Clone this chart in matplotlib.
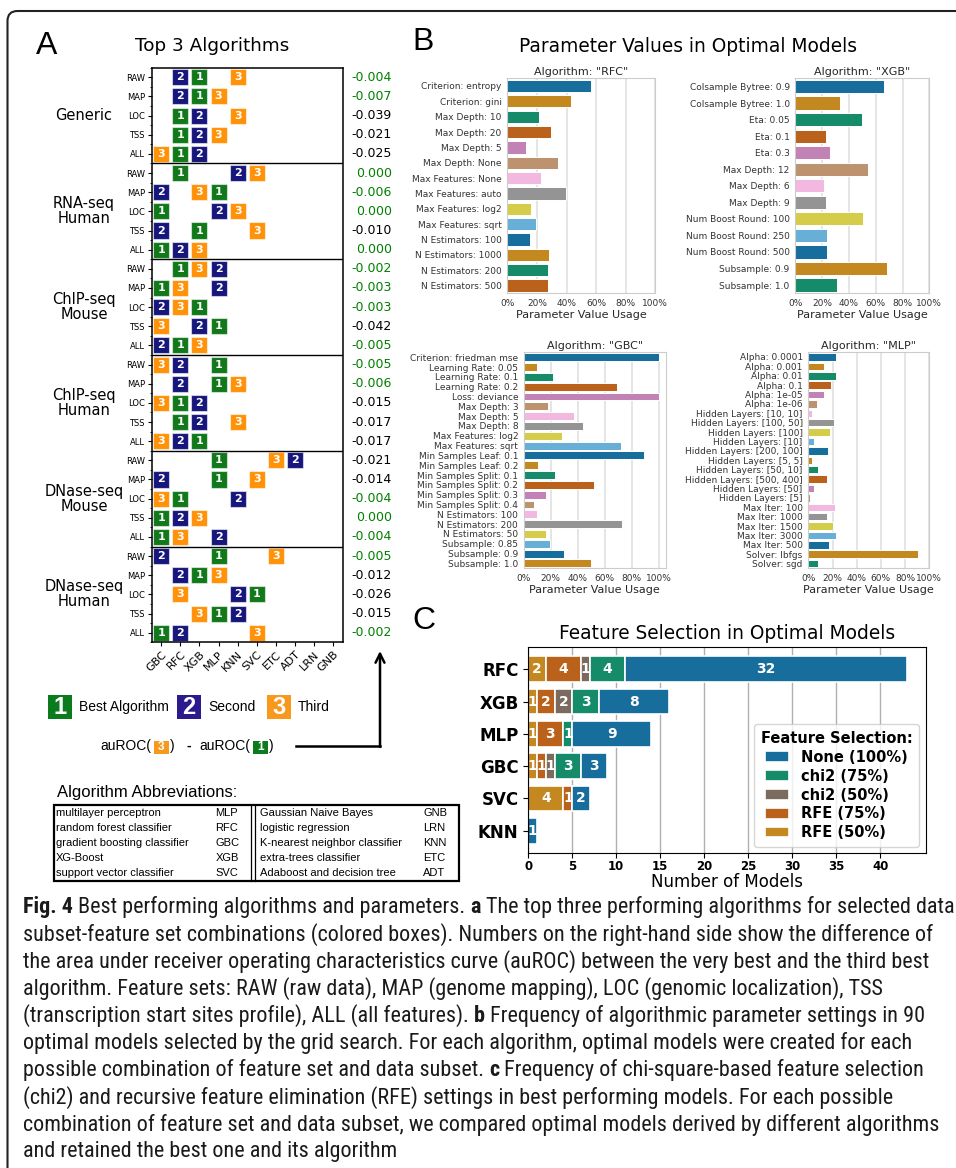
import numpy as np
import matplotlib
matplotlib.use("Agg")
import matplotlib.pyplot as plt
from matplotlib.patches import Rectangle, FancyBboxPatch, FancyArrowPatch
from matplotlib.lines import Line2D
from matplotlib.ticker import PercentFormatter, FixedLocator
from matplotlib import font_manager
import seaborn as sns

W, H = 956, 1168

# ---------------- panel A data ----------------
algos = ["GBC", "RFC", "XGB", "MLP", "KNN", "SVC", "ETC", "ADT", "LRN", "GNB"]
feature_sets = ["RAW", "MAP", "LOC", "TSS", "ALL"]
subsets = ["Generic", "RNA-seq\nHuman", "ChIP-seq\nMouse", "ChIP-seq\nHuman",
           "DNase-seq\nMouse", "DNase-seq\nHuman"]

# (best, second, third) per feature set
top3_generic = [("XGB", "RFC", "KNN"), ("XGB", "RFC", "MLP"), ("RFC", "XGB", "KNN"),
                ("RFC", "XGB", "MLP"), ("RFC", "XGB", "GBC")]
top3_rna_human = [("RFC", "KNN", "SVC"), ("MLP", "GBC", "XGB"), ("GBC", "MLP", "KNN"),
                  ("XGB", "GBC", "SVC"), ("GBC", "RFC", "XGB")]
top3_chip_mouse = [("RFC", "MLP", "XGB"), ("GBC", "MLP", "RFC"), ("XGB", "GBC", "RFC"),
                   ("MLP", "XGB", "GBC"), ("RFC", "GBC", "XGB")]
top3_chip_human = [("MLP", "RFC", "GBC"), ("MLP", "RFC", "KNN"), ("RFC", "XGB", "GBC"),
                   ("RFC", "XGB", "KNN"), ("XGB", "RFC", "GBC")]
top3_dnase_mouse = [("MLP", "ADT", "ETC"), ("MLP", "GBC", "SVC"), ("RFC", "KNN", "GBC"),
                    ("GBC", "RFC", "XGB"), ("GBC", "MLP", "RFC")]
top3_dnase_human = [("MLP", "GBC", "ETC"), ("XGB", "RFC", "MLP"), ("SVC", "KNN", "RFC"),
                    ("MLP", "KNN", "XGB"), ("GBC", "RFC", "SVC")]

# auROC(third) - auROC(best)
diff_generic = [-0.004, -0.007, -0.039, -0.021, -0.025]
diff_rna_human = [0.000, -0.006, 0.000, -0.010, 0.000]
diff_chip_mouse = [-0.002, -0.003, -0.003, -0.042, -0.005]
diff_chip_human = [-0.005, -0.006, -0.015, -0.017, -0.017]
diff_dnase_mouse = [-0.021, -0.014, -0.004, 0.000, -0.004]
diff_dnase_human = [-0.005, -0.012, -0.026, -0.015, -0.002]

abbr_left_names = ["multilayer perceptron", "random forest classifier",
                   "gradient boosting classifier", "XG-Boost", "support vector classifier"]
abbr_left_codes = ["MLP", "RFC", "GBC", "XGB", "SVC"]
abbr_right_names = ["Gaussian Naive Bayes", "logistic regression",
                    "K-nearest neighbor classifier", "extra-trees classifier",
                    "Adaboost and decision tree"]
abbr_right_codes = ["GNB", "LRN", "KNN", "ETC", "ADT"]

# ---------------- panel B data (percent of optimal models) ----------------
rfc_params = ["Criterion: entropy", "Criterion: gini", "Max Depth: 10", "Max Depth: 20",
              "Max Depth: 5", "Max Depth: None", "Max Features: None", "Max Features: auto",
              "Max Features: log2", "Max Features: sqrt", "N Estimators: 100",
              "N Estimators: 1000", "N Estimators: 200", "N Estimators: 500"]
rfc_usage = [56.3, 43.3, 21.6, 29.5, 12.8, 34.0, 22.7, 39.6, 16.2, 19.4, 15.3, 28.4, 27.5, 27.5]

xgb_params = ["Colsample Bytree: 0.9", "Colsample Bytree: 1.0", "Eta: 0.05", "Eta: 0.1",
              "Eta: 0.3", "Max Depth: 12", "Max Depth: 6", "Max Depth: 9",
              "Num Boost Round: 100", "Num Boost Round: 250", "Num Boost Round: 500",
              "Subsample: 0.9", "Subsample: 1.0"]
xgb_usage = [66.5, 33.0, 49.8, 23.0, 26.2, 54.2, 21.6, 23.0, 50.5, 24.0, 24.0, 68.8, 30.8]

gbc_params = ["Criterion: friedman mse", "Learning Rate: 0.05", "Learning Rate: 0.1",
              "Learning Rate: 0.2", "Loss: deviance", "Max Depth: 3", "Max Depth: 5",
              "Max Depth: 8", "Max Features: log2", "Max Features: sqrt",
              "Min Samples Leaf: 0.1", "Min Samples Leaf: 0.2", "Min Samples Split: 0.1",
              "Min Samples Split: 0.2", "Min Samples Split: 0.3", "Min Samples Split: 0.4",
              "N Estimators: 100", "N Estimators: 200", "N Estimators: 50",
              "Subsample: 0.85", "Subsample: 0.9", "Subsample: 1.0"]
gbc_usage = [100, 9.9, 21.3, 68.8, 100, 17.6, 37.4, 44.1, 28.0, 72.0, 88.6, 10.9,
             23.5, 52.2, 16.6, 7.9, 9.9, 73.0, 16.6, 19.6, 30.0, 50.0]

mlp_params = ["Alpha: 0.0001", "Alpha: 0.001", "Alpha: 0.01", "Alpha: 0.1", "Alpha: 1e-05",
              "Alpha: 1e-06", "Hidden Layers: [10, 10]", "Hidden Layers: [100, 50]",
              "Hidden Layers: [100]", "Hidden Layers: [10]", "Hidden Layers: [200, 100]",
              "Hidden Layers: [5, 5]", "Hidden Layers: [50, 10]", "Hidden Layers: [500, 400]",
              "Hidden Layers: [50]", "Hidden Layers: [5]", "Max Iter: 100", "Max Iter: 1000",
              "Max Iter: 1500", "Max Iter: 3000", "Max Iter: 500", "Solver: lbfgs",
              "Solver: sgd"]
mlp_usage = [22.9, 12.9, 22.9, 18.5, 12.9, 7.2, 3.0, 20.9, 17.6, 5.0, 16.3, 3.0, 8.3,
             15.2, 5.0, 1.7, 21.8, 15.2, 20.7, 22.9, 17.4, 90.9, 8.3]

# ---------------- panel C data ----------------
fs_algos = ["RFC", "XGB", "MLP", "GBC", "SVC", "KNN"]
fs_labels = ["RFE (50%)", "RFE (75%)", "chi2 (50%)", "chi2 (75%)", "None (100%)"]
rfe_50 = [2, 1, 1, 1, 4, 0]
rfe_75 = [4, 2, 3, 1, 1, 0]
chi2_50 = [1, 2, 0, 1, 0, 0]
chi2_75 = [4, 3, 1, 3, 0, 0]
none_100 = [32, 8, 9, 3, 2, 1]


def box(l, t, r, b):
    return [l / W, 1 - b / H, (r - l) / W, (b - t) / H]


def fx(x):
    return x / W


def fy(y):
    return 1 - y / H


fig = plt.figure(figsize=(W / 100, H / 100), dpi=100)
renderer = fig.canvas.get_renderer()
ARIAL = "Liberation Sans"

# outer frame with rounded corner
fig.add_artist(FancyBboxPatch((0.075, -1), 20, 12.57, boxstyle="round,pad=0,rounding_size=0.1",
                              transform=fig.dpi_scale_trans, fill=False, ec="#222222", lw=1.5))

for letter, x, y in [("A", 47, 46), ("B", 423, 42), ("C", 424, 621)]:
    fig.text(fx(x), fy(y), letter, fontsize=23, family=ARIAL, ha="center", va="center")

# ================= panel A =================
green, navy, orange = "#11791a", "#16167c", "#ff9208"
rank_colors = [green, navy, orange]

top3_all = [top3_generic, top3_rna_human, top3_chip_mouse, top3_chip_human,
            top3_dnase_mouse, top3_dnase_human]
diff_all = [diff_generic, diff_rna_human, diff_chip_mouse, diff_chip_human,
            diff_dnase_mouse, diff_dnase_human]
n_rows = len(subsets) * len(feature_sets)

fig.text(fx(212), fy(46), "Top 3 Algorithms", fontsize=13.2, ha="center", va="center")
axa = fig.add_axes(box(151.7, 67.7, 342.7, 642.3))
axa.set_xlim(-0.5, len(algos) - 0.5)
axa.set_ylim(n_rows - 0.5, -0.5)
ytr = axa.get_yaxis_transform()
for g, (tops, diffs) in enumerate(zip(top3_all, diff_all)):
    for f, (trio, d) in enumerate(zip(tops, diffs)):
        r = g * len(feature_sets) + f
        for rank, name in enumerate(trio):
            c = algos.index(name)
            axa.add_patch(Rectangle((c - 0.42, r - 0.42), 0.84, 0.84, fc=rank_colors[rank],
                                    ec=(1, 1, 1, 0.55), lw=0.8))
            axa.text(c, r, str(rank + 1), color="white", fontweight="bold", fontsize=8,
                     ha="center", va="center")
        axa.text(1.258, r, f"{d:.3f}", transform=ytr, ha="right", va="center", fontsize=9,
                 color="green" if d > -0.0095 else "black")
    axa.text(-0.354, g * len(feature_sets) + 2, subsets[g], transform=ytr, ha="center",
             va="center", fontsize=10.5, linespacing=1.0)
    if g:
        axa.axhline(g * len(feature_sets) - 0.5, color="black", lw=1)
axa.set_yticks(range(n_rows), feature_sets * len(subsets), fontsize=6)
axa.yaxis.set_minor_locator(FixedLocator(np.arange(-0.5, n_rows, 0.5)))
axa.set_xticks(range(len(algos)), algos, rotation=45, ha="right", rotation_mode="anchor",
               fontsize=8)
axa.tick_params(axis="y", length=3, pad=2)
axa.tick_params(axis="y", which="minor", length=1.5)
axa.tick_params(axis="x", length=3, pad=2)
for s in axa.spines.values():
    s.set_linewidth(1.1)

# rank legend
for x0, digit, label, col in [(48, "1", "Best Algorithm", "#0c7b1c"),
                              (177, "2", "Second", "#2a1a8e"),
                              (267, "3", "Third", "#f8981d")]:
    fig.add_artist(Rectangle((fx(x0), fy(719)), 24 / W, 24 / H, transform=fig.transFigure,
                             fc=col, ec="none"))
    fig.text(fx(x0 + 12), fy(707), digit, color="white", fontsize=17, fontweight="bold",
             family=ARIAL, ha="center", va="center")
    fig.text(fx(x0 + 31), fy(707), label, fontsize=10, family=ARIAL, va="center")

# auROC(3) - auROC(1) formula
fy_f = 746
fig.text(fx(100.5), fy(fy_f), "auROC(", fontsize=10, family=ARIAL, va="center")
fig.text(fx(170), fy(fy_f), ")", fontsize=10, family=ARIAL, va="center")
fig.text(fx(189), fy(fy_f), "-", fontsize=10, family=ARIAL, va="center", ha="center",
         fontweight="bold")
fig.text(fx(199), fy(fy_f), "auROC(", fontsize=10, family=ARIAL, va="center")
fig.text(fx(269), fy(fy_f), ")", fontsize=10, family=ARIAL, va="center")
for x0, digit, col in [(154, "3", "#f8981d"), (253, "1", "#0c7b1c")]:
    fig.add_artist(Rectangle((fx(x0), fy(753.5)), 15 / W, 13 / H, transform=fig.transFigure,
                             fc=col, ec="none"))
    fig.text(fx(x0 + 7.5), fy(747), digit, color="white", fontsize=8.5, fontweight="bold",
             family=ARIAL, ha="center", va="center")
fig.add_artist(Line2D([fx(296), fx(380)], [fy(fy_f), fy(fy_f)], transform=fig.transFigure,
                      color="black", lw=1.8))
fig.add_artist(FancyArrowPatch((fx(380), fy(fy_f + 0.9)), (fx(380), fy(651)),
                               transform=fig.transFigure, arrowstyle="->", mutation_scale=16,
                               color="black", lw=1.8, shrinkA=0, shrinkB=0))

# abbreviation table
fig.text(fx(57), fy(792), "Algorithm Abbreviations:", fontsize=12, family=ARIAL, va="center")
fig.add_artist(Rectangle((fx(53.5), fy(881)), (459 - 53.5) / W, (881 - 805) / H,
                         transform=fig.transFigure, fill=False, ec="black", lw=1.6))
for xv in (250.7, 255):
    fig.add_artist(Line2D([fx(xv), fx(xv)], [fy(805), fy(881)], transform=fig.transFigure,
                          color="black", lw=0.9))
row_y = 813.3
for ln, lc, rn, rc in zip(abbr_left_names, abbr_left_codes, abbr_right_names, abbr_right_codes):
    for x, s in [(56, ln), (215.5, lc), (260, rn), (423, rc)]:
        fig.text(fx(x), fy(row_y), s, fontsize=8, family=ARIAL, va="center")
    row_y += 14.85

# ================= panel B =================
fig.text(fx(688), fy(46), "Parameter Values in Optimal Models", fontsize=13.4,
         ha="center", va="center")
pal = sns.color_palette("colorblind", desat=0.75)


def param_panel(rect, algo, labels, usage, xmax):
    ax = fig.add_axes(box(*rect))
    y = np.arange(len(labels))
    ax.barh(y, np.array(usage) / 100, height=0.8,
            color=[pal[i % len(pal)] for i in y], edgecolor="white", linewidth=0.7)
    ax.set_ylim(len(labels) - 0.5, -0.5)
    ax.set_xlim(0, xmax)
    ax.set_yticks(y, labels)
    ax.set_xticks(np.linspace(0, 1, 6))
    ax.xaxis.set_major_formatter(PercentFormatter(1.0, decimals=0))
    ax.grid(axis="x", color="#dedede", lw=1.1)
    ax.set_axisbelow(True)
    for s in ax.spines.values():
        s.set_color("#cccccc")
    ax.tick_params(length=0, labelsize=6.5, labelcolor="#333333", pad=4)
    ax.set_title(f'Algorithm: "{algo}"', fontsize=8, color="#262626", pad=2.5)
    ax.set_xlabel("Parameter Value Usage", fontsize=8, color="#262626", labelpad=1.5)
    return ax


param_panel((507.3, 78.3, 655.3, 293.3), "RFC", rfc_params, rfc_usage, 1.0)
param_panel((795.3, 78.3, 929.3, 293.3), "XGB", xgb_params, xgb_usage, 1.0)
param_panel((523.7, 352.3, 665.7, 568.3), "GBC", gbc_params, gbc_usage, 1.05)
param_panel((808.3, 352.3, 929.3, 568.3), "MLP", mlp_params, mlp_usage, 1.0)

# ================= panel C =================
axc = fig.add_axes(box(528.3, 647.3, 925.6, 852.7))
fs_colors = [pal[1], pal[3], "#7b6a5e", pal[2], pal[0]]
yc = np.arange(len(fs_algos))
left = np.zeros(len(fs_algos))
handles = []
for label, counts, col in zip(fs_labels, [rfe_50, rfe_75, chi2_50, chi2_75, none_100], fs_colors):
    counts = np.array(counts)
    bars = axc.barh(yc, counts, left=left, height=0.8, color=col, edgecolor="white",
                    linewidth=1.2, label=label)
    axc.bar_label(bars, labels=[str(v) if v else "" for v in counts], label_type="center",
                  color="white", fontweight="bold", fontsize=10)
    handles.append(bars)
    left += counts
axc.set_ylim(len(fs_algos) - 0.32, -0.68)
axc.set_xlim(0, left.max() * 1.05)
axc.set_yticks(yc, fs_algos, fontsize=12, fontweight="bold")
axc.set_xticks(range(0, 45, 5))
for t in axc.get_xticklabels():
    t.set_fontweight("bold")
axc.tick_params(axis="x", labelsize=8.5, pad=2)
axc.grid(axis="x", color="#b0b0b0", lw=1)
axc.set_axisbelow(True)
axc.set_xlabel("Number of Models", fontsize=12, labelpad=0)
axc.set_title("Feature Selection in Optimal Models", fontsize=13.4, pad=6)
axc.legend(handles[::-1], fs_labels[::-1], title="Feature Selection:", loc="lower right",
           bbox_to_anchor=(fx(919), fy(847)), bbox_transform=fig.transFigure,
           prop={"weight": "bold", "size": 10.5},
           title_fontproperties={"weight": "bold", "size": 10.5},
           borderaxespad=0, handlelength=1.65, labelspacing=0.27, borderpad=0.45)

# ================= caption =================
installed = {f.name for f in font_manager.fontManager.ttflist}
cap_family = next((f for f in ["Liberation Sans Narrow", "Roboto Condensed",
                               "Noto Sans Condensed", "Open Sans Condensed",
                               "DejaVu Sans Condensed"] if f in installed), ARIAL)

caption = [
    [("Fig. 4", True), (" Best performing algorithms and parameters. ", False), ("a", True),
     (" The top three performing algorithms for selected data", False)],
    [("subset-feature set combinations (colored boxes). Numbers on the right-hand side show the difference of", False)],
    [("the area under receiver operating characteristics curve (auROC) between the very best and the third best", False)],
    [("algorithm. Feature sets: RAW (raw data), MAP (genome mapping), LOC (genomic localization), TSS", False)],
    [("(transcription start sites profile), ALL (all features). ", False), ("b", True),
     (" Frequency of algorithmic parameter settings in 90", False)],
    [("optimal models selected by the grid search. For each algorithm, optimal models were created for each", False)],
    [("possible combination of feature set and data subset. ", False), ("c", True),
     (" Frequency of chi-square-based feature selection", False)],
    [("(chi2) and recursive feature elimination (RFE) settings in best performing models. For each possible", False)],
    [("combination of feature set and data subset, we compared optimal models derived by different algorithms", False)],
    [("and retained the best one and its algorithm", False)],
]


def text_width(s, size, bold=False):
    t = fig.text(0, 0, s, fontsize=size, family=cap_family,
                 fontweight="bold" if bold else "normal")
    w = t.get_window_extent(renderer).width
    t.remove()
    return w


def draw_line(line, x, y, size, draw=True):
    for s, bold in line:
        space = text_width("x x", size, bold) - text_width("xx", size, bold)
        x += (len(s) - len(s.lstrip())) * space
        core = s.strip()
        if draw:
            t = fig.text(fx(x), fy(y), core, fontsize=size, family=cap_family,
                         fontweight="bold" if bold else "normal", va="center", color="#1a1a1a")
            x += t.get_window_extent(renderer).width
        else:
            x += text_width(core, size, bold)
        x += (len(s) - len(s.rstrip())) * space
    return x


# size the caption so that the widest line ends just inside the right edge
widest = max(draw_line(line, 0, 0, 10, draw=False) for line in caption)
cap_size = 10 * 926 / widest
for i, line in enumerate(caption):
    draw_line(line, 23.0, 907 + 27.2 * i, cap_size)

fig.savefig("out.png", dpi=100)
